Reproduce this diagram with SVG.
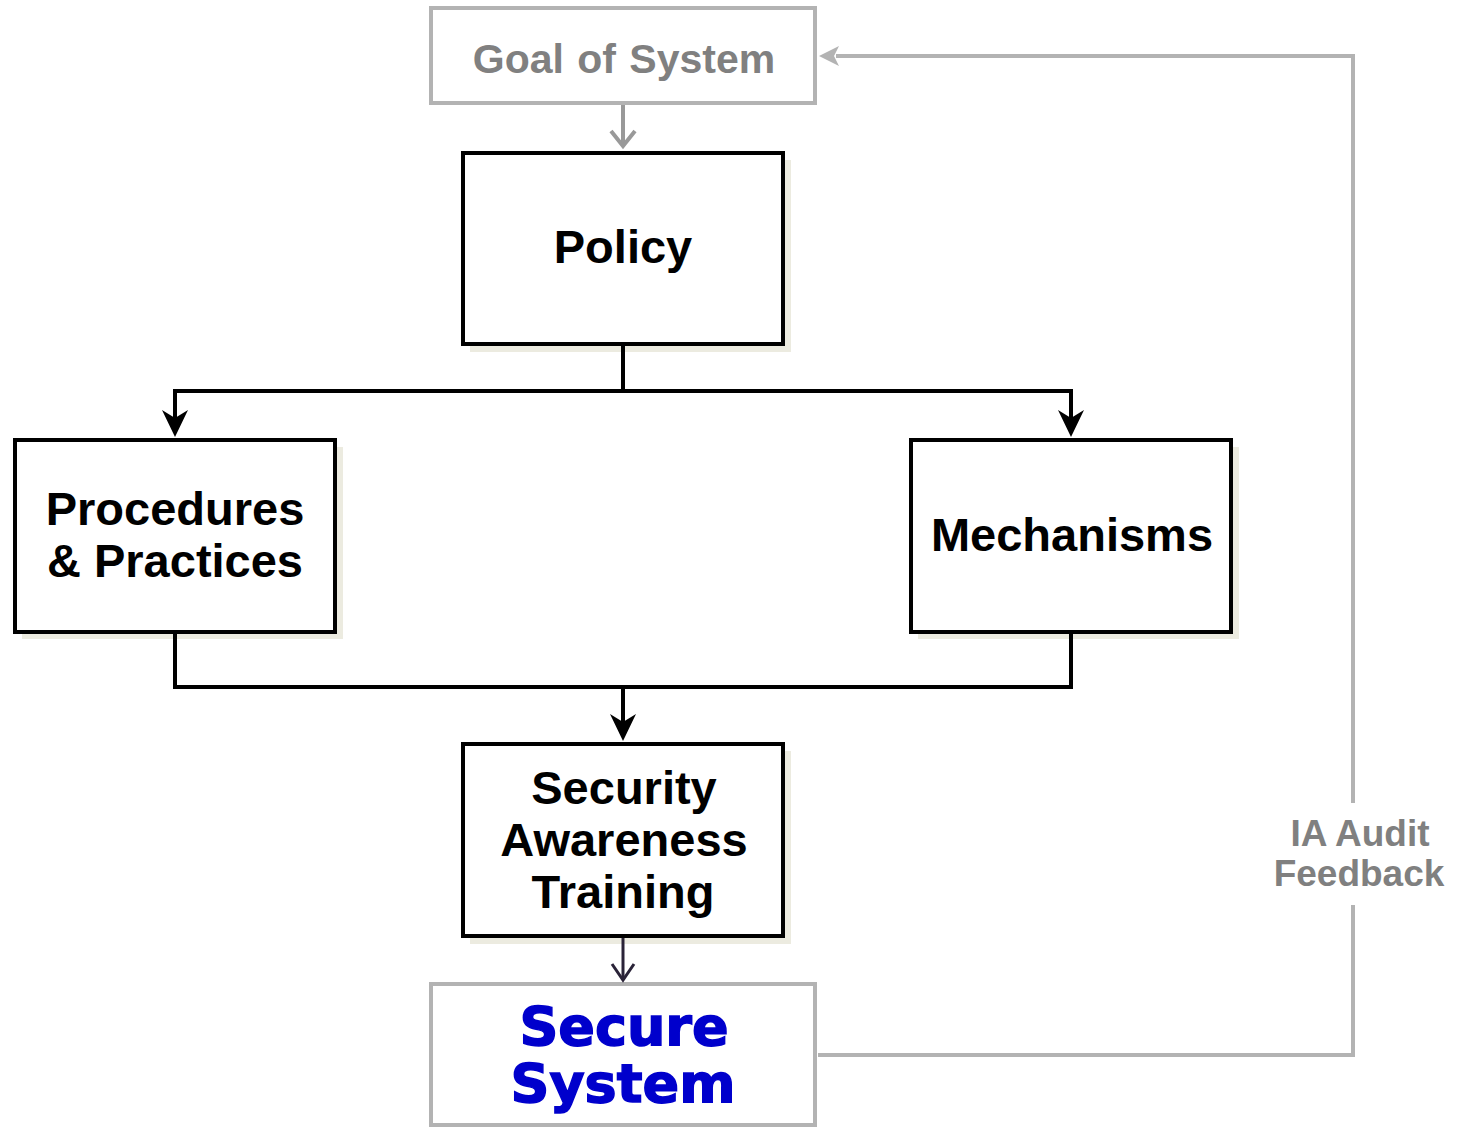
<svg xmlns="http://www.w3.org/2000/svg" width="1464" height="1127" viewBox="0 0 1464 1127">
  <style>
    .box { fill: #ffffff; stroke: #000000; stroke-width: 4; }
    .shadow { fill: #ecebe0; }
    .gbox { fill: #ffffff; stroke: #b3b3b3; stroke-width: 4; }
    .lbl { font-family: "Liberation Sans", Arial, sans-serif; font-weight: bold; font-size: 47px; fill: #000000; text-anchor: middle; }
    .glbl { font-family: "Liberation Sans", Arial, sans-serif; font-weight: bold; fill: #808080; text-anchor: middle; }
    .sec { font-family: "DejaVu Sans", sans-serif; font-weight: bold; font-size: 54px; fill: #0000cc; stroke: #0000cc; stroke-width: 1.5; text-anchor: middle; }
    .wire { fill: none; stroke: #000000; stroke-width: 4; }
    .gwire { fill: none; stroke: #b3b3b3; stroke-width: 4; }
  </style>
  <rect width="1464" height="1127" fill="#ffffff"/>

  <!-- drop shadows sit beneath everything else -->
  <g id="shadows">
    <rect class="shadow" x="470" y="160" width="321" height="192"/>
    <rect class="shadow" x="22" y="447" width="321" height="192"/>
    <rect class="shadow" x="918" y="447" width="321" height="192"/>
    <rect class="shadow" x="470" y="751" width="321" height="193"/>
  </g>

  <g id="goal">
    <rect class="gbox" x="431" y="8" width="384" height="95" stroke-width="3"/>
    <text class="glbl" x="624" y="73" font-size="41" word-spacing="2">Goal of System</text>
  </g>

  <g id="policy">
    <rect class="box" x="463" y="153" width="320" height="191"/>
    <text class="lbl" x="623" y="263">Policy</text>
  </g>

  <g id="procedures">
    <rect class="box" x="15" y="440" width="320" height="192"/>
    <text class="lbl" x="175" y="525">Procedures</text>
    <text class="lbl" x="175" y="577">&amp; Practices</text>
  </g>

  <g id="mechanisms">
    <rect class="box" x="911" y="440" width="320" height="192"/>
    <text class="lbl" x="1072" y="551">Mechanisms</text>
  </g>

  <g id="training">
    <rect class="box" x="463" y="744" width="320" height="192"/>
    <text class="lbl" x="624" y="804">Security</text>
    <text class="lbl" x="624" y="856">Awareness</text>
    <text class="lbl" x="623" y="908">Training</text>
  </g>

  <g id="secure-system">
    <rect class="gbox" x="431" y="984" width="384" height="141" stroke-width="5"/>
    <text class="sec" x="624" y="1045">Secure</text>
    <text class="sec" x="623" y="1102">System</text>
  </g>

  <g id="audit-label">
    <text class="glbl" x="1360" y="846" font-size="37">IA Audit</text>
    <text class="glbl" x="1359" y="886" font-size="37">Feedback</text>
  </g>

  <!-- connectors -->
  <g id="connectors">
    <!-- goal -> policy -->
    <line x1="623" y1="105" x2="623" y2="146" stroke="#999999" stroke-width="4"/>
    <polyline points="611,131 623,146 635,131" fill="none" stroke="#999999" stroke-width="4" stroke-linejoin="miter"/>
    <!-- policy -> procedures / mechanisms -->
    <polyline class="wire" points="623,346 623,391 175,391 175,430"/>
    <polyline class="wire" points="623,391 1071,391 1071,430"/>
    <path d="M162,410 L175,437 L188,410 L175,418 Z" fill="#000000"/>
    <path d="M1058,410 L1071,437 L1084,410 L1071,418 Z" fill="#000000"/>
    <!-- procedures / mechanisms -> training -->
    <polyline class="wire" points="175,634 175,687 1071,687 1071,634"/>
    <line class="wire" x1="623" y1="687" x2="623" y2="734"/>
    <path d="M610,714 L623,741 L636,714 L623,722 Z" fill="#000000"/>
    <!-- training -> secure system -->
    <line x1="623" y1="938" x2="623" y2="980" stroke="#2a2338" stroke-width="3"/>
    <polyline points="612,964 623,980 634,964" fill="none" stroke="#2a2338" stroke-width="3"/>
    <!-- audit feedback loop -->
    <polyline class="gwire" points="818,1055 1353,1055 1353,905"/>
    <polyline class="gwire" points="1353,803 1353,56 836,56"/>
    <path d="M819,56 L839,46 L834,56 L839,66 Z" fill="#b3b3b3"/>
  </g>
</svg>
